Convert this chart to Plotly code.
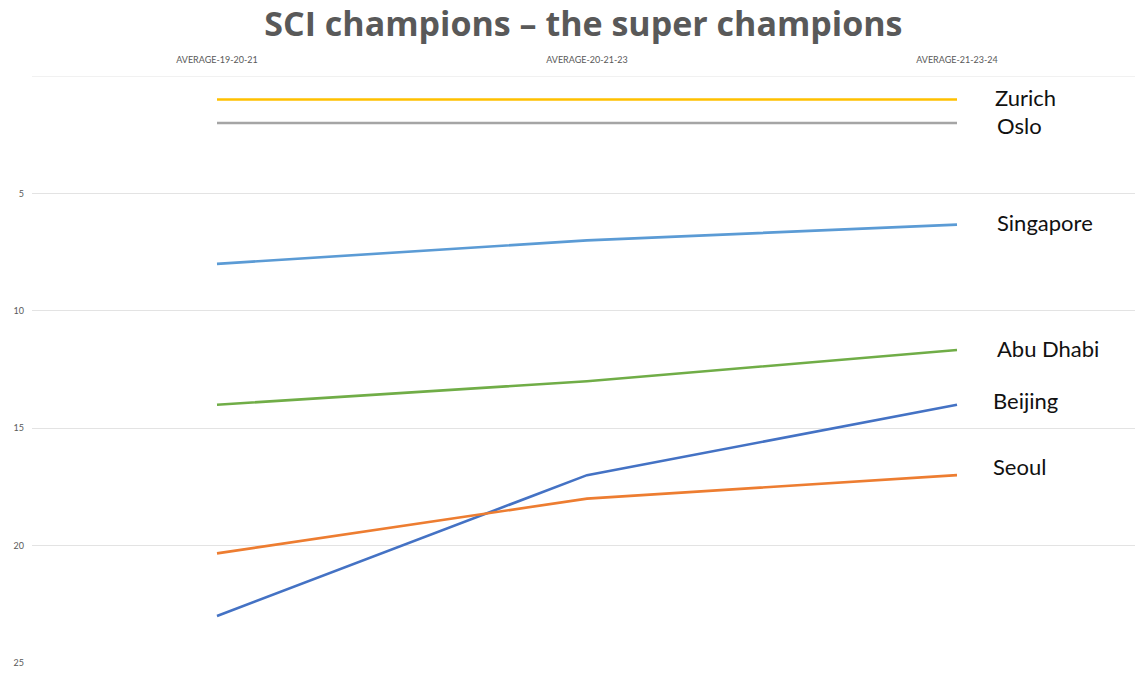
import plotly.graph_objects as go

periods = ["AVERAGE-19-20-21", "AVERAGE-20-21-23", "AVERAGE-21-23-24"]
cities = ["Zurich", "Oslo", "Singapore", "Abu Dhabi", "Beijing", "Seoul"]
zurich = [1, 1, 1]
oslo = [2, 2, 2]
singapore = [8, 7, 6.33]
abu_dhabi = [14, 13, 11.67]
beijing = [23, 17, 14]
seoul = [20.33, 18, 17]
series = [zurich, oslo, singapore, abu_dhabi, beijing, seoul]
colors = ["#FFC000", "#A5A5A5", "#5B9BD5", "#70AD47", "#4472C4", "#ED7D31"]
label_shift = [2, -3, 2, 2, 4, 9]
label_xshift = [36, 38, 38, 38, 34, 34]
y_ticks = [5, 10, 15, 20, 25]

# the page body has an 8px margin, so the figure is sized to the visible area
fig = go.Figure()
for name, vals, col in zip(cities, series, colors):
    fig.add_trace(go.Scatter(x=[0, 1, 2], y=vals, mode="lines", name=name,
                             line=dict(color=col, width=2.6), showlegend=False))

for name, vals, dy, dx in zip(cities, series, label_shift, label_xshift):
    fig.add_annotation(x=2, y=vals[-1], text=name, showarrow=False,
                       xanchor="left", yanchor="middle", xshift=dx, yshift=dy,
                       font=dict(family="Lato, Open Sans, sans-serif", size=22, color="#111111"))

fig.update_layout(
    width=1135, height=667,
    margin=dict(l=24, r=1, t=68, b=12, autoexpand=False),
    paper_bgcolor="white", plot_bgcolor="white",
    title=dict(text="<b>SCI champions – the super champions</b>", x=0.507, xanchor="center",
               y=0.976, yanchor="middle",
               font=dict(family="Open Sans, sans-serif", size=34, color="#595959")),
    xaxis=dict(range=[-0.5, 2.5], tickvals=[0, 1, 2], ticktext=periods, side="top",
               showgrid=False, zeroline=False, showline=False, ticks="", automargin=False,
               ticklabelstandoff=10,
               tickfont=dict(family="Lato, Open Sans, sans-serif", size=9, color="#595959")),
    yaxis=dict(range=[25, 0], tickvals=y_ticks, showgrid=True, gridcolor="#E3E3E3",
               gridwidth=1, zeroline=False, showline=False, ticks="", automargin=False,
               ticklabelstandoff=7,
               tickfont=dict(family="Lato, Open Sans, sans-serif", size=9, color="#595959")),
)
fig.add_shape(type="line", xref="paper", yref="y", x0=0, x1=1, y0=0, y1=0,
              line=dict(color="#E3E3E3", width=1), layer="below")
fig.write_html("out.html")
